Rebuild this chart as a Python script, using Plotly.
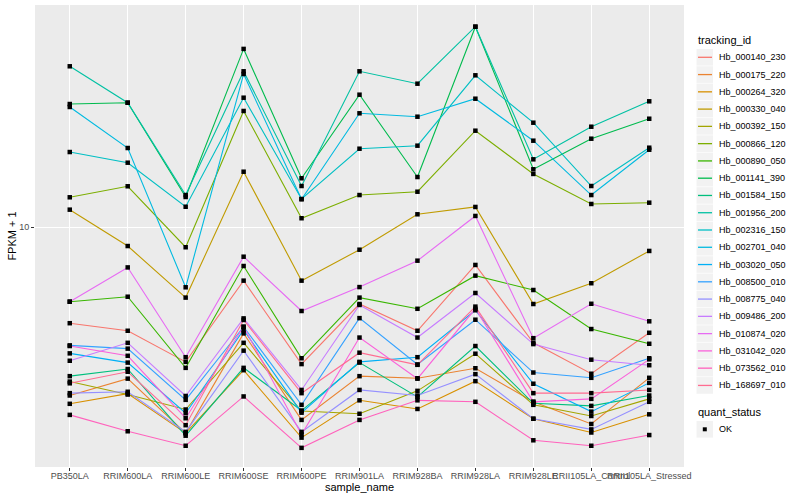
import plotly.graph_objects as go

samples = ["PB350LA", "RRIM600LA", "RRIM600LE", "RRIM600SE", "RRIM600PE", "RRIM901LA",
           "RRIM928BA", "RRIM928LA", "RRIM928LE", "RRII105LA_Control", "RRII105LA_Stressed"]

tracking_ids = ["Hb_000140_230", "Hb_000175_220", "Hb_000264_320", "Hb_000330_040", "Hb_000392_150",
                "Hb_000866_120", "Hb_000890_050", "Hb_001141_390", "Hb_001584_150", "Hb_001956_200",
                "Hb_002316_150", "Hb_002701_040", "Hb_003020_050", "Hb_008500_010", "Hb_008775_040",
                "Hb_009486_200", "Hb_010874_020", "Hb_031042_020", "Hb_073562_010", "Hb_168697_010"]

colors = ["#F8766D", "#EA8331", "#D89000", "#C09B00", "#A3A500", "#7CAE00", "#39B600", "#00BB4E",
          "#00BF7D", "#00C1A3", "#00BFC4", "#00BAE0", "#00B0F6", "#35A2FF", "#9590FF", "#C77CFF",
          "#E76BF3", "#FA62DB", "#FF62BC", "#FF6C91"]

# FPKM + 1 values, one list per tracking_id, in sample order
Hb_000140_230 = [4.79, 4.52, 3.56, 6.64, 3.50, 5.55, 4.52, 7.49, 4.12, 3.25, 4.45]
Hb_000175_220 = [2.75, 3.13, 2.06, 4.43, 2.28, 3.19, 3.14, 3.39, 2.62, 2.21, 3.15]
Hb_000264_320 = [2.58, 2.79, 2.06, 3.34, 1.99, 2.65, 2.48, 3.07, 2.30, 2.07, 2.38]
Hb_000330_040 = [11.45, 8.66, 5.83, 15.32, 6.64, 8.42, 11.05, 11.69, 5.55, 6.51, 8.34]
Hb_000392_150 = [3.06, 2.77, 2.47, 4.12, 2.44, 2.39, 2.85, 3.79, 2.56, 2.35, 2.68]
Hb_000866_120 = [12.59, 13.70, 8.58, 24.42, 10.72, 12.81, 13.14, 20.99, 15.06, 11.96, 12.08]
Hb_000890_050 = [5.65, 5.87, 3.40, 7.43, 3.66, 5.83, 5.35, 6.90, 6.18, 4.58, 4.09]
Hb_001141_390 = [25.76, 26.02, 12.62, 39.32, 14.57, 27.67, 14.71, 46.63, 15.61, 19.74, 23.01]
Hb_001584_150 = [3.19, 3.37, 2.02, 3.40, 2.45, 3.54, 2.72, 4.02, 2.59, 2.54, 2.75]
Hb_001956_200 = [34.41, 26.02, 12.81, 33.11, 13.73, 33.11, 30.11, 46.63, 16.85, 21.64, 26.30]
Hb_002316_150 = [17.82, 16.42, 11.71, 27.04, 12.43, 18.28, 18.71, 32.11, 22.32, 13.73, 18.42]
Hb_002701_040 = [25.18, 18.38, 6.31, 32.43, 12.40, 23.99, 23.37, 26.83, 19.44, 12.81, 18.14]
Hb_003020_050 = [3.80, 3.54, 2.40, 4.55, 2.41, 3.56, 3.69, 5.29, 3.01, 2.43, 3.03]
Hb_008500_010 = [4.04, 3.94, 2.66, 4.66, 2.56, 4.98, 3.49, 4.92, 3.28, 3.15, 3.66]
Hb_008775_040 = [2.80, 2.83, 2.08, 3.88, 2.08, 2.87, 2.75, 3.24, 2.30, 2.12, 2.62]
Hb_009486_200 = [3.59, 4.12, 2.74, 4.97, 2.87, 5.51, 4.29, 6.04, 4.08, 3.62, 3.47]
Hb_010874_020 = [5.65, 7.35, 3.69, 7.98, 5.26, 6.32, 7.74, 10.91, 4.27, 5.56, 4.86]
Hb_031042_020 = [4.02, 3.73, 2.31, 4.66, 2.04, 4.29, 3.13, 5.35, 2.62, 2.68, 3.63]
Hb_073562_010 = [2.37, 2.09, 1.87, 2.73, 1.84, 2.28, 2.65, 2.62, 1.95, 1.87, 2.03]
Hb_168697_010 = [3.02, 3.30, 2.19, 4.91, 2.80, 3.82, 3.48, 5.44, 2.80, 2.80, 2.87]

series = [Hb_000140_230, Hb_000175_220, Hb_000264_320, Hb_000330_040, Hb_000392_150,
          Hb_000866_120, Hb_000890_050, Hb_001141_390, Hb_001584_150, Hb_001956_200,
          Hb_002316_150, Hb_002701_040, Hb_003020_050, Hb_008500_010, Hb_008775_040,
          Hb_009486_200, Hb_010874_020, Hb_031042_020, Hb_073562_010, Hb_168697_010]

quant_status = "OK"

FONT = "Liberation Sans, Arial, Helvetica, sans-serif"

W, H = 800, 500
ML, MR, MT, MB = 35, 116, 5, 33
PW, PH = W - ML - MR, H - MT - MB


def px(x):
    return (x - ML) / PW


def py(y):
    return (H - MB - y) / PH


fig = go.Figure()

# lines
for name, vals, col in zip(tracking_ids, series, colors):
    fig.add_trace(go.Scatter(x=samples, y=vals, mode="lines", line=dict(color=col, width=1.1),
                             name=name, showlegend=False, hoverinfo="skip"))

# points on top
for name, vals in zip(tracking_ids, series):
    fig.add_trace(go.Scatter(x=samples, y=vals, mode="markers",
                             marker=dict(symbol="square", size=4.5, color="black"),
                             name=quant_status, showlegend=False))

# ggplot-style legend drawn in the right margin
shapes = []
annotations = []
annotations.append(dict(text="tracking_id", x=px(696), y=py(40), xref="paper", yref="paper",
                        xanchor="left", yanchor="middle", showarrow=False,
                        font=dict(size=11, color="black", family=FONT)))
step = 17.27
for i, (name, col) in enumerate(zip(tracking_ids, colors)):
    cy = 57.3 + i * step
    shapes.append(dict(type="rect", xref="paper", yref="paper", x0=px(696.5), x1=px(713),
                       y0=py(cy - 8.3), y1=py(cy + 8.3), fillcolor="#F2F2F2", line=dict(width=0),
                       layer="above"))
    shapes.append(dict(type="line", xref="paper", yref="paper", x0=px(698), x1=px(712),
                       y0=py(cy), y1=py(cy), line=dict(color=col, width=1.3), layer="above"))
    annotations.append(dict(text=name, x=px(716.5), y=py(cy), xref="paper", yref="paper",
                            xanchor="left", yanchor="middle", showarrow=False,
                            font=dict(size=9, color="black", family=FONT)))

annotations.append(dict(text="quant_status", x=px(696), y=py(412.3), xref="paper", yref="paper",
                        xanchor="left", yanchor="middle", showarrow=False,
                        font=dict(size=11, color="black", family=FONT)))
qy = 429.3
shapes.append(dict(type="rect", xref="paper", yref="paper", x0=px(696.5), x1=px(713),
                   y0=py(qy - 8.3), y1=py(qy + 8.3), fillcolor="#F2F2F2", line=dict(width=0),
                   layer="above"))
shapes.append(dict(type="rect", xref="paper", yref="paper", x0=px(702.8), x1=px(706.8),
                   y0=py(qy - 2), y1=py(qy + 2), fillcolor="black", line=dict(width=0),
                   layer="above"))
annotations.append(dict(text=quant_status, x=px(716.5), y=py(qy), xref="paper", yref="paper",
                        xanchor="left", yanchor="middle", showarrow=False,
                        font=dict(size=9, color="black", family=FONT)))

fig.update_layout(
    width=W, height=H,
    margin=dict(l=ML, r=MR, t=MT, b=MB),
    paper_bgcolor="white",
    plot_bgcolor="#EBEBEB",
    font=dict(family=FONT, color="black"),
    showlegend=False,
    shapes=shapes,
    annotations=annotations,
    xaxis=dict(
        type="category", categoryorder="array", categoryarray=samples,
        range=[-0.6, 10.6], showgrid=True, gridcolor="white", gridwidth=1.1,
        zeroline=False, showline=False, ticks="outside", ticklen=3, tickwidth=1,
        tickcolor="#333333", tickangle=0, ticklabelstandoff=-3,
        tickfont=dict(size=9, color="#4D4D4D", family=FONT),
        title=dict(text="sample_name", font=dict(size=11, color="black"), standoff=3),
    ),
    yaxis=dict(
        type="log", range=[0.201, 1.741], tickvals=[10], ticktext=["10"],
        showgrid=True, gridcolor="white", gridwidth=1.1, zeroline=False, showline=False,
        ticks="outside", ticklen=3, tickwidth=1, tickcolor="#333333",
        tickfont=dict(size=9, color="#4D4D4D", family=FONT),
        title=dict(text="FPKM + 1", font=dict(size=11, color="black"), standoff=0),
        minor=dict(showgrid=False),
    ),
)

fig.write_html("out.html", config={"displayModeBar": False},
               post_script="document.body.style.margin='0';")
